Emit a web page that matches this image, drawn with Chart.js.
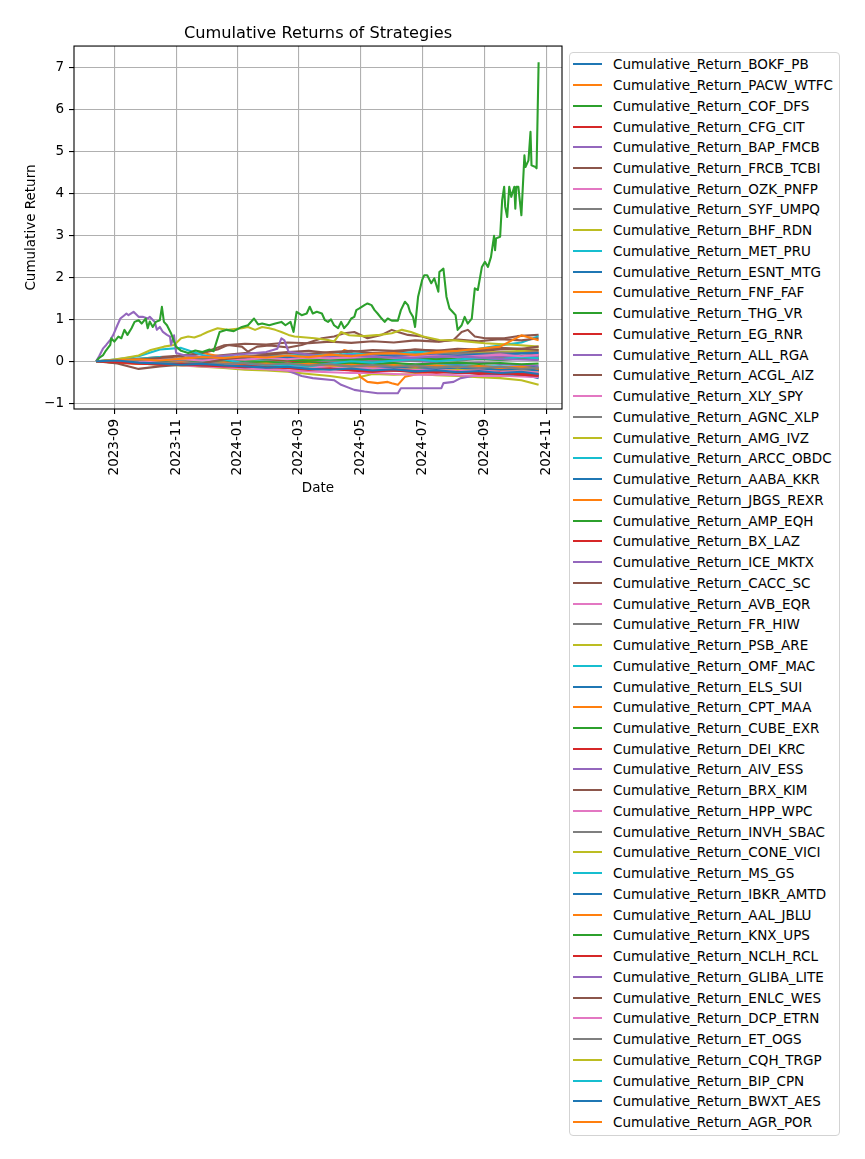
<!DOCTYPE html>
<html><head><meta charset="utf-8">
<script src="https://cdn.jsdelivr.net/npm/chart.js@4.4.1/dist/chart.umd.min.js"></script>
<style>
html,body{margin:0;padding:0;background:#fff;}
#wrap{position:relative;width:865px;height:1159px;overflow:hidden;background:#fff;}
#c{position:absolute;left:0;top:0;}
#legend{position:absolute;left:569px;top:52px;width:271px;height:1084px;box-sizing:border-box;border:1px solid #d3d3d3;border-radius:4px;background:#fff;font-family:"DejaVu Sans",sans-serif;font-size:13.5px;color:#000;}
.row{position:absolute;left:0;height:16px;width:100%;}
.row .h{position:absolute;left:3px;top:7px;width:29px;height:2px;}
.row .t{position:absolute;left:43px;top:0;line-height:16px;white-space:nowrap;}
</style></head>
<body><div id="wrap"><canvas id="c" width="865" height="1159"></canvas><div id="legend"></div></div>
<script>
// ---------------- data ----------------
const gridDates = ['2023-08-14','2023-09-04','2023-09-25','2023-10-16','2023-11-06','2023-11-27','2023-12-18','2024-01-08','2024-01-29','2024-02-19','2024-03-11','2024-04-01','2024-04-22','2024-05-13','2024-06-03','2024-06-24','2024-07-15','2024-08-05','2024-08-26','2024-09-16','2024-10-07','2024-10-24'];

const xTickDates = ['2023-09-01','2023-11-01','2024-01-01','2024-03-01','2024-05-01','2024-07-01','2024-09-01','2024-11-01'];
const xTickLabels = ['2023-09','2023-11','2024-01','2024-03','2024-05','2024-07','2024-09','2024-11'];
const yTicks = [-1,0,1,2,3,4,5,6,7];

const BOKF_PB   = [0,0.02,-0.03,-0.05,-0.08,-0.06,-0.10,-0.12,-0.15,-0.13,-0.18,-0.20,-0.17,-0.22,-0.19,-0.24,-0.21,-0.26,-0.23,-0.28,-0.25,-0.30];
const PACW_WTFC = [0,0.03,0.05,0.02,0.06,0.10,0.08,0.12,0.09,0.14,0.10,0.16,0.12,0.18,0.20,0.15,0.22,0.25,0.30,0.35,0.62,0.50];
const COF_DFS = [['2023-08-14',0],['2023-08-17',0.08],['2023-08-21',0.15],['2023-08-23',0.23],['2023-08-28',0.39],['2023-08-29',0.55],['2023-09-01',0.47],['2023-09-05',0.59],['2023-09-08',0.55],['2023-09-11',0.75],['2023-09-14',0.63],['2023-09-18',0.79],['2023-09-21',0.94],['2023-09-25',0.98],['2023-09-28',0.90],['2023-10-02',1.02],['2023-10-04',0.79],['2023-10-06',0.95],['2023-10-09',0.82],['2023-10-12',0.94],['2023-10-16',0.98],['2023-10-18',1.30],['2023-10-20',0.94],['2023-10-23',0.86],['2023-10-27',0.67],['2023-10-30',0.47],['2023-11-01',0.35],['2023-11-06',0.25],['2023-11-13',0.20],['2023-11-20',0.26],['2023-11-27',0.22],['2023-12-04',0.28],['2023-12-08',0.24],['2023-12-11',0.47],['2023-12-14',0.70],['2023-12-21',0.75],['2023-12-28',0.72],['2024-01-05',0.82],['2024-01-11',0.86],['2024-01-17',1.02],['2024-01-21',0.88],['2024-01-25',0.90],['2024-02-01',0.86],['2024-02-07',0.90],['2024-02-13',0.94],['2024-02-17',0.86],['2024-02-22',0.94],['2024-02-25',0.70],['2024-02-28',1.18],['2024-03-04',1.10],['2024-03-09',1.14],['2024-03-12',1.30],['2024-03-15',1.14],['2024-03-19',1.18],['2024-03-24',1.14],['2024-03-27',0.98],['2024-03-30',0.94],['2024-04-02',1.00],['2024-04-05',0.86],['2024-04-09',0.79],['2024-04-12',0.94],['2024-04-15',0.79],['2024-04-19',0.90],['2024-04-22',1.02],['2024-04-25',1.06],['2024-04-27',1.22],['2024-04-30',1.26],['2024-05-05',1.34],['2024-05-08',1.38],['2024-05-12',1.34],['2024-05-15',1.22],['2024-05-18',1.14],['2024-05-22',1.02],['2024-05-25',0.94],['2024-05-28',1.02],['2024-06-01',0.97],['2024-06-07',0.97],['2024-06-10',1.22],['2024-06-14',1.42],['2024-06-17',1.34],['2024-06-19',1.18],['2024-06-22',1.06],['2024-06-24',0.82],['2024-06-27',1.54],['2024-07-01',1.94],['2024-07-03',2.05],['2024-07-06',2.05],['2024-07-10',1.86],['2024-07-13',1.98],['2024-07-17',1.66],['2024-07-18',2.13],['2024-07-22',2.21],['2024-07-25',1.54],['2024-07-28',1.26],['2024-07-31',1.18],['2024-08-03',1.10],['2024-08-05',0.75],['2024-08-09',0.86],['2024-08-12',1.06],['2024-08-15',0.90],['2024-08-19',1.02],['2024-08-22',1.74],['2024-08-25',1.70],['2024-08-29',2.25],['2024-09-01',2.37],['2024-09-04',2.25],['2024-09-07',2.49],['2024-09-10',2.99],['2024-09-11',2.65],['2024-09-12',2.93],['2024-09-16',2.97],['2024-09-18',3.84],['2024-09-20',4.16],['2024-09-21',3.68],['2024-09-23',3.44],['2024-09-25',4.16],['2024-09-27',3.92],['2024-09-30',4.16],['2024-10-01',3.64],['2024-10-02',4.16],['2024-10-04',4.16],['2024-10-07',3.48],['2024-10-10',4.91],['2024-10-11',4.63],['2024-10-14',4.79],['2024-10-16',5.47],['2024-10-17',4.67],['2024-10-21',4.63],['2024-10-22',4.60],['2024-10-24',7.13]];
const CFG_CIT   = [0,-0.02,-0.05,-0.08,-0.06,-0.10,-0.12,-0.10,-0.14,-0.16,-0.20,-0.18,-0.22,-0.25,-0.20,-0.23,-0.27,-0.25,-0.30,-0.27,-0.32,-0.35];
const BAP_FMCB = [['2023-08-14',0],['2023-08-17',0.12],['2023-08-21',0.31],['2023-08-24',0.39],['2023-08-28',0.51],['2023-08-31',0.63],['2023-09-04',0.86],['2023-09-07',1.02],['2023-09-11',1.10],['2023-09-13',1.14],['2023-09-15',1.10],['2023-09-20',1.18],['2023-09-25',1.06],['2023-09-29',1.06],['2023-10-04',1.02],['2023-10-06',1.06],['2023-10-11',0.94],['2023-10-13',0.75],['2023-10-16',0.82],['2023-10-19',0.70],['2023-10-23',0.63],['2023-10-26',0.59],['2023-10-27',0.39],['2023-10-30',0.62],['2023-11-01',0.20],['2023-11-08',0.15],['2023-11-20',0.12],['2023-12-05',0.10],['2023-12-20',0.14],['2024-01-10',0.18],['2024-01-29',0.22],['2024-02-09',0.30],['2024-02-13',0.55],['2024-02-16',0.50],['2024-02-20',0.23],['2024-03-05',0.18],['2024-03-25',0.12],['2024-04-20',0.15],['2024-05-20',0.10],['2024-06-20',0.08],['2024-07-20',0.12],['2024-08-20',0.10],['2024-09-20',0.05],['2024-10-24',0.03]];
const FRCB_TCBI = [0,-0.05,-0.18,-0.12,-0.08,-0.05,0.05,0.10,0.15,0.20,0.18,0.22,0.25,0.20,0.22,0.28,0.25,0.30,0.28,0.32,0.30,0.35];
const OZK_PNFP  = [0,0.01,-0.02,0.03,0.05,0.02,0.06,0.04,0.08,0.05,0.09,0.07,0.10,0.12,0.08,0.11,0.14,0.10,0.13,0.16,0.12,0.15];
const SYF_UMPQ  = [0,-0.01,0.02,-0.03,-0.05,-0.02,-0.06,-0.04,-0.08,-0.05,-0.10,-0.07,-0.12,-0.09,-0.13,-0.10,-0.15,-0.12,-0.16,-0.13,-0.18,-0.15];
const BHF_RDN = [['2023-08-14',0],['2023-08-28',0.03],['2023-09-11',0.08],['2023-09-25',0.14],['2023-10-07',0.27],['2023-10-20',0.35],['2023-10-30',0.39],['2023-11-06',0.55],['2023-11-13',0.59],['2023-11-19',0.57],['2023-11-26',0.63],['2023-12-02',0.70],['2023-12-12',0.79],['2023-12-22',0.75],['2024-01-05',0.79],['2024-01-11',0.82],['2024-01-18',0.75],['2024-01-25',0.82],['2024-02-01',0.79],['2024-02-07',0.75],['2024-02-13',0.70],['2024-02-20',0.63],['2024-02-26',0.59],['2024-03-17',0.55],['2024-03-30',0.51],['2024-04-05',0.47],['2024-04-12',0.70],['2024-04-20',0.62],['2024-05-05',0.60],['2024-05-20',0.63],['2024-06-01',0.67],['2024-06-11',0.75],['2024-06-20',0.70],['2024-07-02',0.59],['2024-07-18',0.51],['2024-08-03',0.50],['2024-09-01',0.43],['2024-10-03',0.39],['2024-10-24',0.35]];
const MET_PRU   = [0,0.05,0.12,0.28,0.32,0.15,0.05,-0.05,-0.10,-0.08,-0.12,-0.05,0.00,-0.03,0.02,0.05,0.00,0.04,0.08,0.05,0.10,0.07];
const ESNT_MTG  = [0,0.02,0.04,0.01,0.05,0.08,0.06,0.10,0.07,0.11,0.09,0.13,0.10,0.14,0.12,0.10,0.15,0.13,0.17,0.15,0.19,0.20];
const FNF_FAF   = [0,-0.03,0.00,-0.04,-0.02,-0.06,-0.03,-0.07,-0.05,-0.09,-0.06,-0.10,-0.08,-0.12,-0.09,-0.13,-0.10,-0.14,-0.11,-0.15,-0.13,-0.17];
const THG_VR    = [0,0.01,0.03,0.00,0.04,0.02,0.05,0.03,0.06,0.04,0.02,0.05,0.03,0.06,0.04,0.07,0.05,0.08,0.06,0.04,0.07,0.05];
const EG_RNR    = [0,-0.02,-0.04,-0.06,-0.09,-0.07,-0.11,-0.14,-0.12,-0.16,-0.19,-0.17,-0.21,-0.24,-0.22,-0.26,-0.24,-0.28,-0.26,-0.30,-0.28,-0.32];
const ALL_RGA   = [0,0.02,0.00,0.03,0.01,0.04,0.02,0.05,0.10,0.08,0.12,0.09,0.13,0.10,0.14,0.11,0.08,0.12,0.09,0.13,0.10,0.12];
const ACGL_AIZ  = [0,0.02,0.05,0.08,0.12,0.20,0.38,0.42,0.40,0.45,0.43,0.47,0.44,0.48,0.45,0.50,0.47,0.52,0.48,0.53,0.50,0.55];
const XLY_SPY   = [0,-0.01,-0.03,-0.05,-0.04,-0.07,-0.09,-0.08,-0.11,-0.13,-0.12,-0.15,-0.17,-0.16,-0.19,-0.21,-0.20,-0.23,-0.22,-0.25,-0.24,-0.27];
const AGNC_XLP  = [0,0.01,0.03,0.05,0.04,0.07,0.06,0.09,0.08,0.11,0.10,0.13,0.12,0.15,0.14,0.17,0.16,0.19,0.18,0.21,0.20,0.22];
const AMG_IVZ   = [0,0.00,-0.02,-0.04,-0.06,-0.05,-0.08,-0.10,-0.09,-0.12,-0.14,-0.13,-0.16,-0.18,-0.20,-0.19,-0.22,-0.20,-0.23,-0.25,-0.24,-0.26];
const ARCC_OBDC = [0,0.02,0.04,0.06,0.05,0.08,0.10,0.12,0.11,0.14,0.16,0.15,0.18,0.20,0.19,0.22,0.24,0.23,0.30,0.38,0.45,0.60];
const AABA_KKR  = [0,-0.02,-0.01,-0.04,-0.03,-0.06,-0.05,-0.08,-0.07,-0.10,-0.09,-0.12,-0.11,-0.14,-0.13,-0.16,-0.15,-0.18,-0.17,-0.20,-0.19,-0.22];
const JBGS_REXR = [0,-0.03,-0.05,-0.02,0.05,0.20,0.10,-0.08,-0.12,-0.05,-0.10,-0.08,-0.12,-0.15,-0.10,-0.14,-0.18,-0.15,-0.20,-0.17,-0.22,-0.20];
const AMP_EQH   = [0,0.01,-0.01,0.02,0.00,-0.02,0.01,-0.03,-0.01,-0.04,-0.02,-0.05,-0.03,-0.06,-0.04,-0.07,-0.05,-0.03,-0.06,-0.04,-0.07,-0.05];
const BX_LAZ    = [0,0.01,0.03,0.06,0.04,0.08,0.10,0.07,0.05,0.02,-0.02,-0.05,-0.08,-0.10,-0.13,-0.11,-0.15,-0.13,-0.17,-0.15,-0.18,-0.20];
const ICE_MKTX  = [0,-0.02,-0.04,-0.03,-0.06,-0.08,-0.07,-0.10,-0.12,-0.11,-0.14,-0.16,-0.15,-0.18,-0.20,-0.19,-0.22,-0.24,-0.23,-0.26,-0.28,-0.30];
const CACC_SC   = [0,0.02,0.01,0.04,0.06,0.10,0.15,0.20,0.18,0.22,0.25,0.20,0.23,0.27,0.25,0.28,0.26,0.22,0.25,0.28,0.30,0.27];
const AVB_EQR   = [0,0.00,0.02,0.01,0.03,0.02,0.04,0.06,0.05,0.07,0.09,0.08,0.10,0.12,0.11,0.13,0.15,0.17,0.16,0.18,0.20,0.18];
const FR_HIW    = [0,-0.01,0.01,-0.02,0.00,-0.03,-0.01,-0.04,-0.02,0.00,-0.03,-0.01,0.02,0.00,0.03,0.01,0.04,0.02,0.05,0.03,0.06,0.04];
const PSB_ARE   = [0,0.02,0.00,0.03,0.06,0.04,0.08,0.06,0.10,0.08,0.11,0.13,0.10,0.14,0.12,0.16,0.14,0.18,0.20,0.22,0.25,0.28];
const OMF_MAC   = [0,0.02,0.06,0.10,-0.05,-0.10,-0.08,-0.12,-0.10,-0.06,-0.10,0.00,0.15,0.05,-0.05,-0.08,-0.12,-0.10,-0.14,-0.12,-0.16,-0.18];
const ELS_SUI   = [0,-0.01,-0.02,-0.04,-0.05,-0.07,-0.09,-0.10,-0.12,-0.14,-0.15,-0.17,-0.19,-0.20,-0.22,-0.24,-0.25,-0.27,-0.29,-0.30,-0.32,-0.34];
const CPT_MAA   = [0,0.00,0.02,0.04,0.03,0.05,0.07,0.06,0.08,0.10,0.12,0.11,0.13,0.15,0.17,0.16,0.18,0.20,0.22,0.21,0.23,0.25];
const CUBE_EXR  = [0,-0.01,0.00,-0.02,-0.01,-0.03,-0.05,-0.04,-0.06,-0.08,-0.07,-0.09,-0.11,-0.10,-0.12,-0.14,-0.13,-0.15,-0.17,-0.16,-0.18,-0.20];
const DEI_KRC   = [0,-0.03,-0.06,-0.04,-0.08,-0.10,-0.07,-0.11,-0.09,-0.13,-0.11,-0.15,-0.13,-0.17,-0.15,-0.19,-0.17,-0.21,-0.19,-0.22,-0.20,-0.24];
const AIV_ESS   = [0,0.01,0.03,0.02,0.05,0.04,0.06,0.05,0.08,0.07,0.09,0.08,0.06,0.04,0.02,0.00,-0.02,-0.05,-0.03,-0.06,-0.08,-0.10];
const BRX_KIM   = [0,-0.01,-0.03,-0.02,0.00,0.02,0.05,0.08,0.06,0.10,0.12,0.10,0.14,0.12,0.16,0.14,0.18,0.15,0.12,0.15,0.13,0.16];
const HPP_WPC   = [0,-0.02,-0.04,-0.07,-0.09,-0.12,-0.14,-0.17,-0.19,-0.22,-0.24,-0.26,-0.28,-0.27,-0.30,-0.32,-0.31,-0.33,-0.35,-0.34,-0.36,-0.38];
const INVH_SBAC = [0,0.02,0.05,0.03,0.07,0.10,0.08,0.12,0.15,0.13,0.10,0.14,0.11,0.09,0.12,0.10,0.07,0.10,0.08,0.11,0.09,0.07];
const CONE_VICI = [0,0.01,0.02,0.04,0.03,0.06,0.05,0.03,0.06,0.04,0.07,0.05,0.08,0.06,0.09,0.12,0.10,0.13,0.11,0.14,0.12,0.10];
const MS_GS     = [0,-0.01,0.01,-0.02,0.00,-0.03,-0.01,0.02,0.00,0.03,0.05,0.02,0.04,0.07,0.05,0.08,0.06,0.09,0.07,0.10,0.08,0.11];
const IBKR_AMTD = [0,0.02,0.00,-0.02,-0.05,-0.03,-0.07,-0.09,-0.06,-0.10,-0.12,-0.10,-0.14,-0.16,-0.13,-0.17,-0.20,-0.18,-0.22,-0.25,-0.30,-0.40];
const AAL_JBLU = [['2023-08-14',0],['2023-09-10',0.03],['2023-10-05',-0.02],['2023-11-06',0.04],['2023-12-05',0.00],['2024-01-08',-0.04],['2024-02-05',0.02],['2024-03-04',-0.03],['2024-03-25',0.05],['2024-04-10',0.15],['2024-04-15',0.27],['2024-04-22',0.22],['2024-04-28',-0.21],['2024-05-01',-0.37],['2024-05-08',-0.49],['2024-05-18',-0.52],['2024-05-28',-0.49],['2024-06-01',-0.52],['2024-06-07',-0.56],['2024-06-14',-0.37],['2024-06-27',-0.30],['2024-07-15',-0.25],['2024-08-10',-0.20],['2024-09-10',-0.28],['2024-10-24',-0.37]];
const KNX_UPS   = [0,0.00,-0.02,0.01,-0.01,0.02,0.00,-0.02,0.01,-0.01,0.02,0.05,0.03,0.06,0.08,0.06,0.09,0.07,0.10,0.12,0.10,0.13];
const NCLH_RCL  = [0,-0.02,-0.01,-0.03,-0.05,-0.04,-0.06,-0.08,-0.10,-0.09,-0.11,-0.13,-0.12,-0.14,-0.16,-0.15,-0.17,-0.19,-0.18,-0.20,-0.22,-0.21];
const GLIBA_LITE = [['2023-08-14',0],['2023-09-25',-0.03],['2023-11-06',-0.06],['2023-12-18',-0.10],['2024-01-29',-0.18],['2024-02-19',-0.22],['2024-03-04',-0.35],['2024-03-15',-0.40],['2024-04-05',-0.45],['2024-04-12',-0.56],['2024-04-25',-0.68],['2024-05-05',-0.72],['2024-05-18',-0.76],['2024-06-07',-0.76],['2024-06-10',-0.64],['2024-07-20',-0.64],['2024-07-22',-0.52],['2024-08-01',-0.49],['2024-08-08',-0.40],['2024-08-20',-0.35],['2024-09-16',-0.32],['2024-10-24',-0.30]];
const ENLC_WES = [['2023-08-14',0],['2023-09-04',0.03],['2023-09-25',0.06],['2023-10-16',0.10],['2023-11-06',0.14],['2023-11-27',0.20],['2023-12-12',0.28],['2023-12-22',0.39],['2024-01-05',0.35],['2024-01-11',0.23],['2024-01-20',0.35],['2024-02-01',0.38],['2024-02-20',0.33],['2024-03-04',0.39],['2024-03-24',0.55],['2024-04-05',0.59],['2024-04-15',0.67],['2024-04-25',0.70],['2024-05-08',0.55],['2024-05-22',0.63],['2024-06-01',0.75],['2024-06-07',0.70],['2024-06-17',0.63],['2024-07-01',0.59],['2024-07-17',0.47],['2024-08-01',0.51],['2024-08-09',0.70],['2024-08-15',0.75],['2024-08-22',0.59],['2024-09-01',0.55],['2024-09-20',0.55],['2024-10-03',0.60],['2024-10-24',0.63]];
const DCP_ETRN  = [0,0.01,0.00,0.02,0.01,0.03,0.02,0.04,0.03,0.02,0.04,0.03,0.05,0.04,0.06,0.05,0.07,0.09,0.08,0.10,0.09,0.08];
const ET_OGS    = [0,-0.01,-0.02,-0.01,-0.03,-0.05,-0.04,-0.06,-0.05,-0.07,-0.09,-0.08,-0.10,-0.09,-0.11,-0.13,-0.12,-0.14,-0.16,-0.15,-0.17,-0.19];
const CQH_TRGP  = [0,-0.02,-0.05,-0.08,-0.10,-0.13,-0.16,-0.20,-0.22,-0.25,-0.30,-0.35,-0.42,-0.30,-0.32,-0.30,-0.33,-0.35,-0.38,-0.40,-0.45,-0.56];
const BIP_CPN   = [0,0.01,0.03,0.05,0.02,0.00,-0.03,-0.05,-0.08,-0.06,-0.09,-0.12,-0.10,-0.13,-0.11,-0.14,-0.12,-0.15,-0.13,-0.16,-0.14,-0.17];
const BWXT_AES  = [0,0.00,0.02,0.01,0.03,0.05,0.04,0.02,0.00,-0.02,-0.04,-0.03,-0.05,-0.07,-0.06,-0.08,-0.10,-0.09,-0.11,-0.13,-0.12,-0.14];
const AGR_POR   = [0,-0.02,-0.04,-0.03,-0.06,-0.08,-0.10,-0.09,-0.12,-0.14,-0.16,-0.15,-0.18,-0.20,-0.22,-0.21,-0.24,-0.26,-0.28,-0.27,-0.30,-0.32];

const seriesTable = [
  ['BOKF_PB',BOKF_PB],['PACW_WTFC',PACW_WTFC],['COF_DFS',COF_DFS],['CFG_CIT',CFG_CIT],['BAP_FMCB',BAP_FMCB],
  ['FRCB_TCBI',FRCB_TCBI],['OZK_PNFP',OZK_PNFP],['SYF_UMPQ',SYF_UMPQ],['BHF_RDN',BHF_RDN],['MET_PRU',MET_PRU],
  ['ESNT_MTG',ESNT_MTG],['FNF_FAF',FNF_FAF],['THG_VR',THG_VR],['EG_RNR',EG_RNR],['ALL_RGA',ALL_RGA],
  ['ACGL_AIZ',ACGL_AIZ],['XLY_SPY',XLY_SPY],['AGNC_XLP',AGNC_XLP],['AMG_IVZ',AMG_IVZ],['ARCC_OBDC',ARCC_OBDC],
  ['AABA_KKR',AABA_KKR],['JBGS_REXR',JBGS_REXR],['AMP_EQH',AMP_EQH],['BX_LAZ',BX_LAZ],['ICE_MKTX',ICE_MKTX],
  ['CACC_SC',CACC_SC],['AVB_EQR',AVB_EQR],['FR_HIW',FR_HIW],['PSB_ARE',PSB_ARE],['OMF_MAC',OMF_MAC],
  ['ELS_SUI',ELS_SUI],['CPT_MAA',CPT_MAA],['CUBE_EXR',CUBE_EXR],['DEI_KRC',DEI_KRC],['AIV_ESS',AIV_ESS],
  ['BRX_KIM',BRX_KIM],['HPP_WPC',HPP_WPC],['INVH_SBAC',INVH_SBAC],['CONE_VICI',CONE_VICI],['MS_GS',MS_GS],
  ['IBKR_AMTD',IBKR_AMTD],['AAL_JBLU',AAL_JBLU],['KNX_UPS',KNX_UPS],['NCLH_RCL',NCLH_RCL],['GLIBA_LITE',GLIBA_LITE],
  ['ENLC_WES',ENLC_WES],['DCP_ETRN',DCP_ETRN],['ET_OGS',ET_OGS],['CQH_TRGP',CQH_TRGP],['BIP_CPN',BIP_CPN],
  ['BWXT_AES',BWXT_AES],['AGR_POR',AGR_POR]
];

// ---------------- styling ----------------
const palette = ['#1f77b4','#ff7f0e','#2ca02c','#d62728','#9467bd','#8c564b','#e377c2','#7f7f7f','#bcbd22','#17becf'];
const FONT = '"DejaVu Sans", sans-serif';
const DAY = 86400000;
const t = s => Date.UTC(+s.slice(0,4), +s.slice(5,7) - 1, +s.slice(8,10));

const datasets = seriesTable.map(([name, vals], i) => {
  const pts = Array.isArray(vals[0])
    ? vals.map(([d, v]) => ({x: t(d), y: v}))
    : vals.map((v, k) => ({x: t(gridDates[k]), y: v}));
  return {
    label: 'Cumulative_Return_' + name,
    data: pts,
    borderColor: palette[i % 10],
    backgroundColor: palette[i % 10],
    borderWidth: 2.08,
    pointRadius: 0,
    pointHoverRadius: 0,
    tension: 0,
    fill: false,
    borderJoinStyle: 'round',
    borderCapStyle: 'butt'
  };
});

const spines = {
  id: 'spines',
  afterDraw(chart) {
    const {ctx, chartArea: a} = chart;
    ctx.save();
    ctx.strokeStyle = '#000';
    ctx.lineWidth = 1.1;
    ctx.strokeRect(a.left, a.top, a.right - a.left, a.bottom - a.top);
    ctx.restore();
  }
};

const x0 = t('2023-09-01');
const tickFont = {family: FONT, size: 13.5};
new Chart(document.getElementById('c'), {
  type: 'line',
  data: {datasets},
  options: {
    responsive: false,
    animation: false,
    devicePixelRatio: 1,
    events: [],
    layout: {padding: {left: 0, right: 303, top: 0, bottom: 660}},
    plugins: {
      legend: {display: false},
      tooltip: {enabled: false},
      title: {
        display: true, text: 'Cumulative Returns of Strategies', fullSize: false,
        color: '#000', font: {family: FONT, size: 16.2, weight: 'normal'},
        padding: {top: 23.8, bottom: 2.8}
      }
    },
    scales: {
      x: {
        type: 'linear',
        min: x0 - 39.8 * DAY,
        max: x0 + 442.1 * DAY,
        afterBuildTicks: s => { s.ticks = xTickDates.map(d => ({value: t(d)})); },
        afterFit: s => { s.height = 90; },
        ticks: {autoSkip: false, maxRotation: 90, minRotation: 90, padding: 5, color: '#000', font: tickFont,
                callback: (v, i) => xTickLabels[i]},
        grid: {color: '#b0b0b0', lineWidth: 1.1, tickLength: 5, tickColor: '#000', tickWidth: 1.1},
        border: {display: false},
        title: {display: true, text: 'Date', color: '#000', font: tickFont, padding: {top: 0, bottom: 2.2}}
      },
      y: {
        type: 'linear',
        min: -1.136,
        max: 7.514,
        afterBuildTicks: s => { s.ticks = yTicks.map(v => ({value: v})); },
        afterFit: s => { s.width = 74; },
        ticks: {padding: 5, color: '#000', font: tickFont, callback: v => String(v).replace('-', '\u2212')},
        grid: {color: '#b0b0b0', lineWidth: 1.1, tickLength: 5, tickColor: '#000', tickWidth: 1.1},
        border: {display: false},
        title: {display: true, text: 'Cumulative Return', color: '#000', font: tickFont, padding: {top: 23.2, bottom: 0}}
      }
    }
  },
  plugins: [spines]
});

// ---------------- legend (HTML, from the same datasets) ----------------
const legend = document.getElementById('legend');
datasets.forEach((ds, i) => {
  const row = document.createElement('div');
  row.className = 'row';
  row.style.top = (11.3 + i * 20.74 - 8) + 'px';
  const h = document.createElement('div');
  h.className = 'h';
  h.style.background = ds.borderColor;
  const tx = document.createElement('div');
  tx.className = 't';
  tx.textContent = ds.label;
  row.appendChild(h); row.appendChild(tx);
  legend.appendChild(row);
});
</script>
</body></html>
